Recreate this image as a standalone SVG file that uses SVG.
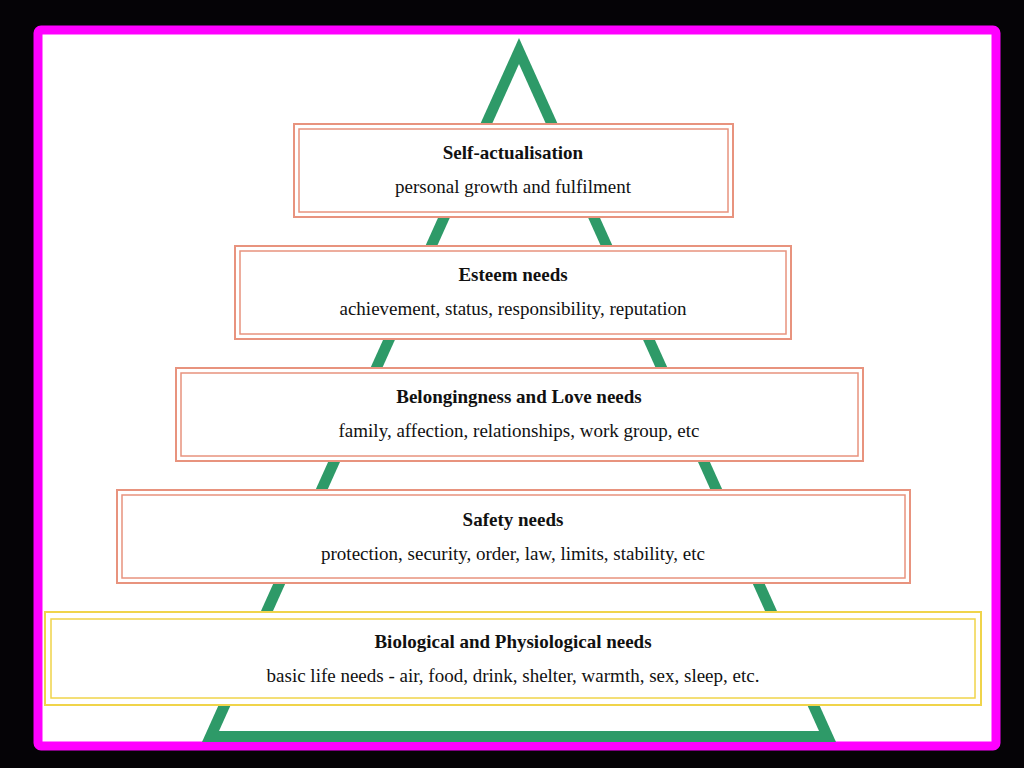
<svg xmlns="http://www.w3.org/2000/svg" width="1024" height="768" viewBox="0 0 1024 768">
<style>
.o{fill:#fff;stroke:#e8937e;stroke-width:2}
.i{fill:none;stroke:#e8937e;stroke-width:1.5}
.oy{fill:#fff;stroke:#f0d44a;stroke-width:2}
.iy{fill:none;stroke:#f0d44a;stroke-width:1.5}
.t{font-family:"Liberation Serif",serif;font-size:19px;font-weight:bold;text-anchor:middle;fill:#111}
.s{font-family:"Liberation Serif",serif;font-size:19px;text-anchor:middle;fill:#111}
</style>
<rect width="1024" height="768" fill="#050306"/>
<rect x="38" y="30" width="958" height="716" rx="3" fill="#fff" stroke="#ff00ff" stroke-width="9"/>
<g id="pyramid">
<polygon points="519,38 202,742 836,742" fill="#2e9a68"/>
<polygon points="519,64 219,731 819,731" fill="#fff"/>
</g>
<g id="n1"><rect class="o" x="294" y="124" width="439" height="93"/><rect class="i" x="299" y="129" width="429" height="83"/>
<text class="t" x="513" y="159">Self-actualisation</text><text class="s" x="513" y="193">personal growth and fulfilment</text></g>
<g id="n2"><rect class="o" x="235" y="246" width="556" height="93"/><rect class="i" x="240" y="251" width="546" height="83"/>
<text class="t" x="513" y="281">Esteem needs</text><text class="s" x="513" y="315">achievement, status, responsibility, reputation</text></g>
<g id="n3"><rect class="o" x="176" y="368" width="687" height="93"/><rect class="i" x="181" y="373" width="677" height="83"/>
<text class="t" x="519" y="403">Belongingness and Love needs</text><text class="s" x="519" y="437">family, affection, relationships, work group, etc</text></g>
<g id="n4"><rect class="o" x="117" y="490" width="793" height="93"/><rect class="i" x="122" y="495" width="783" height="83"/>
<text class="t" x="513" y="526">Safety needs</text><text class="s" x="513" y="560">protection, security, order, law, limits, stability, etc</text></g>
<g id="n5"><rect class="oy" x="45" y="612" width="936" height="93"/><rect class="iy" x="51" y="619" width="924" height="79"/>
<text class="t" x="513" y="648">Biological and Physiological needs</text><text class="s" x="513" y="682">basic life needs - air, food, drink, shelter, warmth, sex, sleep, etc.</text></g>
<g id="connectors"/>
</svg>
